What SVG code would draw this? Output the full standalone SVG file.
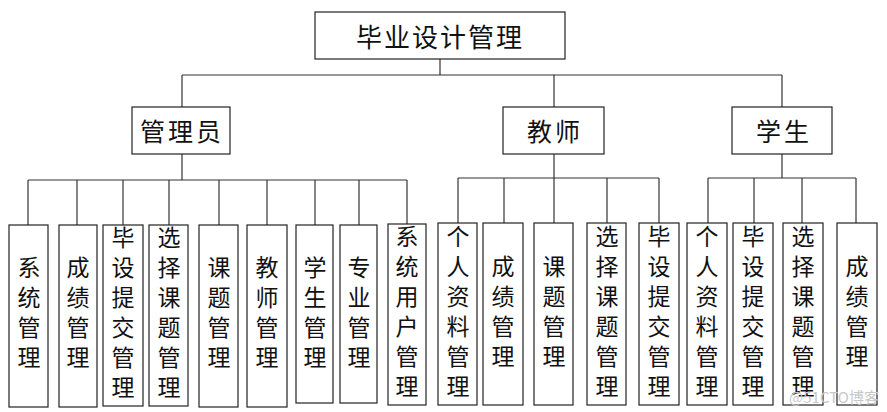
<svg xmlns="http://www.w3.org/2000/svg" width="887" height="412" viewBox="0 0 887 412">
<style>
rect.b{fill:#fff;stroke:#222;stroke-width:1.2}
#connectors line{stroke:#333;stroke-width:1.2}
text{font-family:"Noto Sans CJK SC","Noto Sans CJK JP",sans-serif;fill:#111;text-anchor:middle;dominant-baseline:central}
.t1{font-size:26px;letter-spacing:2px}
.t2{font-size:25px;letter-spacing:3px}
.v{font-size:23px;writing-mode:vertical-rl;letter-spacing:7px}
.wm{font-size:15px;fill:#c8c8c8}
</style>
<rect width="887" height="412" fill="#fff"/>
<g id="connectors">
<line x1="440" y1="59" x2="440" y2="75"/>
<line x1="182" y1="75" x2="782" y2="75"/>
<line x1="182" y1="75" x2="182" y2="107"/>
<line x1="554" y1="75" x2="554" y2="107"/>
<line x1="782" y1="75" x2="782" y2="107"/>
<line x1="182" y1="154" x2="182" y2="180"/>
<line x1="28" y1="180" x2="407" y2="180"/>
<line x1="28" y1="180" x2="28" y2="225"/>
<line x1="77" y1="180" x2="77" y2="225"/>
<line x1="123" y1="180" x2="123" y2="225"/>
<line x1="169" y1="180" x2="169" y2="225"/>
<line x1="219" y1="180" x2="219" y2="225"/>
<line x1="267" y1="180" x2="267" y2="225"/>
<line x1="315" y1="180" x2="315" y2="225"/>
<line x1="359" y1="180" x2="359" y2="225"/>
<line x1="407" y1="180" x2="407" y2="224"/>
<line x1="554" y1="154" x2="554" y2="178"/>
<line x1="458" y1="178" x2="659" y2="178"/>
<line x1="458" y1="178" x2="458" y2="223"/>
<line x1="504" y1="178" x2="504" y2="223"/>
<line x1="554" y1="178" x2="554" y2="223"/>
<line x1="607" y1="178" x2="607" y2="223"/>
<line x1="659" y1="178" x2="659" y2="223"/>
<line x1="782" y1="154" x2="782" y2="178"/>
<line x1="708" y1="178" x2="856" y2="178"/>
<line x1="708" y1="178" x2="708" y2="223"/>
<line x1="754" y1="178" x2="754" y2="223"/>
<line x1="802" y1="178" x2="802" y2="223"/>
<line x1="856" y1="178" x2="856" y2="223"/>
</g>
<g id="root"><rect class="b" x="315" y="12" width="250" height="47"/><text class="t1" x="440" y="35">毕业设计管理</text></g>
<g id="admin"><rect class="b" x="132" y="107" width="98" height="47"/><text class="t2" x="182" y="130">管理员</text></g>
<g id="teacher"><rect class="b" x="503" y="107" width="101" height="47"/><text class="t2" x="555" y="130">教师</text></g>
<g id="student"><rect class="b" x="732" y="107" width="100" height="47"/><text class="t2" x="784" y="130">学生</text></g>

<g id="a1"><rect class="b" x="9" y="225" width="39" height="182"/><text class="v" x="29" y="316">系统管理</text></g>
<g id="a2"><rect class="b" x="59" y="225" width="38" height="182"/><text class="v" x="78" y="316">成绩管理</text></g>
<g id="a3"><rect class="b" x="103" y="225" width="40" height="181"/><text class="v" x="123" y="316">毕设提交管理</text></g>
<g id="a4"><rect class="b" x="149" y="225" width="39" height="181"/><text class="v" x="169" y="316">选择课题管理</text></g>
<g id="a5"><rect class="b" x="199" y="225" width="39" height="182"/><text class="v" x="219" y="316">课题管理</text></g>
<g id="a6"><rect class="b" x="247" y="225" width="40" height="182"/><text class="v" x="267" y="316">教师管理</text></g>
<g id="a7"><rect class="b" x="296" y="225" width="37" height="178"/><text class="v" x="315" y="316">学生管理</text></g>
<g id="a8"><rect class="b" x="340" y="225" width="37" height="178"/><text class="v" x="359" y="316">专业管理</text></g>
<g id="a9"><rect class="b" x="388" y="224" width="38" height="181"/><text class="v" x="407" y="315">系统用户管理</text></g>

<g id="t1"><rect class="b" x="438" y="223" width="39" height="182"/><text class="v" x="458" y="315">个人资料管理</text></g>
<g id="t2"><rect class="b" x="483" y="223" width="40" height="182"/><text class="v" x="503" y="315">成绩管理</text></g>
<g id="t3"><rect class="b" x="534" y="223" width="39" height="182"/><text class="v" x="554" y="315">课题管理</text></g>
<g id="t4"><rect class="b" x="587" y="223" width="39" height="182"/><text class="v" x="607" y="315">选择课题管理</text></g>
<g id="t5"><rect class="b" x="639" y="223" width="40" height="182"/><text class="v" x="659" y="315">毕设提交管理</text></g>

<g id="s1"><rect class="b" x="687" y="223" width="40" height="182"/><text class="v" x="707" y="315">个人资料管理</text></g>
<g id="s2"><rect class="b" x="733" y="223" width="40" height="182"/><text class="v" x="753" y="315">毕设提交管理</text></g>
<g id="s3"><rect class="b" x="783" y="223" width="40" height="182"/><text class="v" x="803" y="315">选择课题管理</text></g>
<g id="s4"><rect class="b" x="837" y="223" width="40" height="182"/><text class="v" x="857" y="315">成绩管理</text></g>

<text class="wm" x="834" y="396">@51CTO博客</text>
</svg>
